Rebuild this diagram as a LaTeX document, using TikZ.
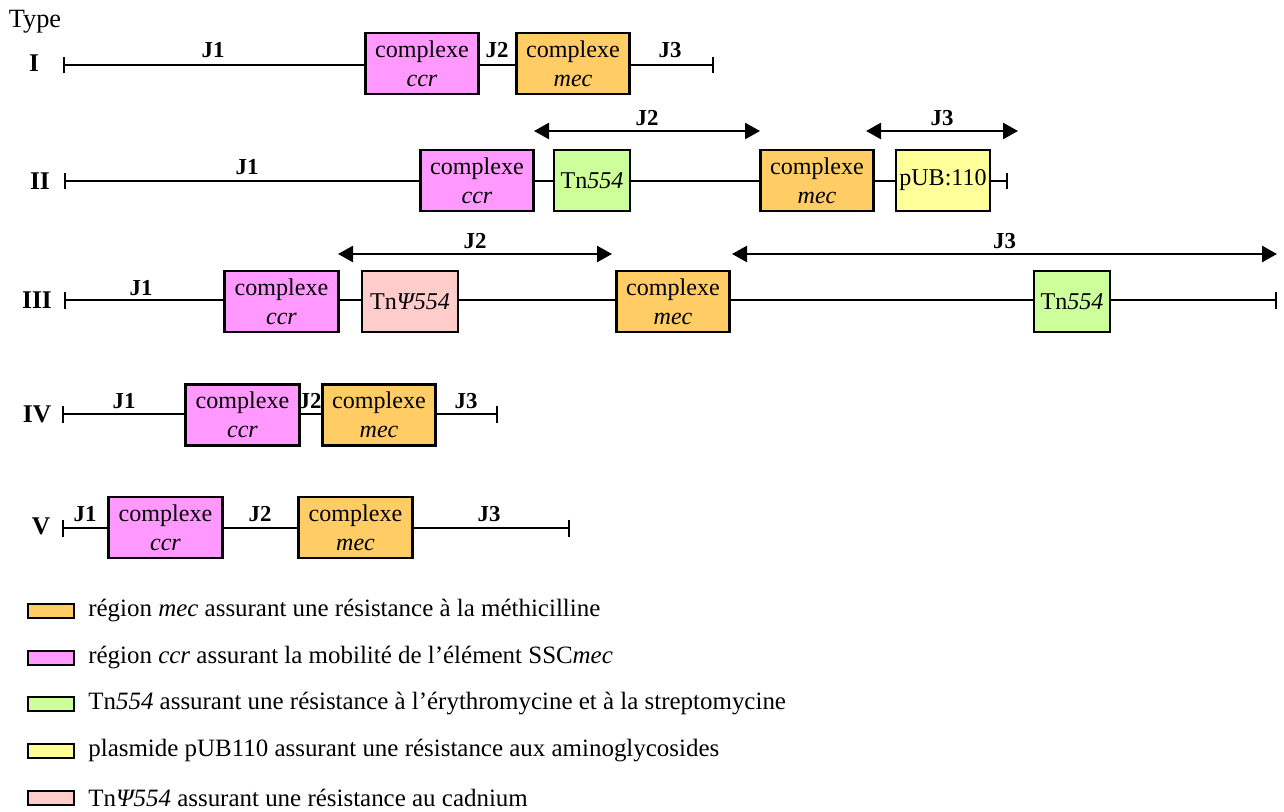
\documentclass[tikz,border=0pt]{standalone}
\usepackage{fontspec}
\setmainfont{Liberation Serif}
\usetikzlibrary{arrows.meta, positioning}
\definecolor{ccrPink}{HTML}{FF99FF}
\definecolor{mecOrange}{HTML}{FFCC66}
\definecolor{tnGreen}{HTML}{CCFF99}
\definecolor{pubYellow}{HTML}{FFFF99}
\definecolor{psiPink}{HTML}{FFCCCC}

\begin{document}
\begin{tikzpicture}[
    x=0.02cm,            % one pixel of the reference
    y=-0.02cm,           % y grows downwards
    font=\fontsize{13.7}{16.5}\selectfont,
    gene/.style={draw, line width=1.5pt, inner sep=0pt, align=center,
                 minimum width=2.27cm, minimum height=1.22cm},
    small gene/.style={gene, minimum width=1.52cm},
    backbone/.style={line width=1.4pt, {Bar[width=0.34cm]}-{Bar[width=0.34cm]}},
    span/.style={line width=1.4pt, {Triangle[length=0.3cm,width=0.32cm]}-{Triangle[length=0.3cm,width=0.32cm]}},
    jlabel/.style={font=\fontsize{13}{15}\selectfont\bfseries},
    typelabel/.style={font=\fontsize{14.5}{16}\selectfont\bfseries},
    keybox/.style={draw, line width=1.2pt, minimum width=0.92cm, minimum height=0.28cm, inner sep=0pt},
    keytext/.style={anchor=west, inner sep=0pt, font=\fontsize{14.2}{16}\selectfont}
]
    \useasboundingbox (0,0) rectangle (1284,811);

    % --- Type I ---
    \node (type) at (35,22) {\fontsize{15}{16}\selectfont Type};
    \node[typelabel] (tI) at (34,63) {I};
    \coordinate (s1) at (63,65);
    \coordinate (e1) at (714,65);
    \draw[backbone] (s1) -- (e1);
    \node[gene, fill=ccrPink] (ccr1) at (422,63.5) {complexe\\\textit{ccr}};
    \node[gene, fill=mecOrange] (mec1) at (573,63.5) {complexe\\\textit{mec}};
    \node[jlabel] (j11) at (213,50) {J1};
    \node[jlabel] (j21) at (497,50) {J2};
    \node[jlabel] (j31) at (670,50) {J3};

    % --- Type II ---
    \node[typelabel] (tII) at (40,181) {II};
    \coordinate (s2) at (64,181);
    \coordinate (e2) at (1008,181);
    \draw[backbone] (s2) -- (e2);
    \node[gene, fill=ccrPink] (ccr2) at (477,180.5) {complexe\\\textit{ccr}};
    \node[small gene, fill=tnGreen] (tn2) at (592,180.5) {Tn\textit{554}};
    \node[gene, fill=mecOrange] (mec2) at (817,180.5) {complexe\\\textit{mec}};
    \node[gene, fill=pubYellow, minimum width=1.88cm] (pub2) at (943,180.5) {pUB:110};
    \node[jlabel] (j12) at (247,167) {J1};
    % spans of J2 and J3
    \coordinate (a2l) at (534,131);
    \coordinate (a2r) at (760,131);
    \coordinate (a3l) at (866,131);
    \coordinate (a3r) at (1018,131);
    \draw[span] (a2l) -- node[jlabel, above=-1pt] (j22) {J2} (a2r);
    \draw[span] (a3l) -- node[jlabel, above=-1pt] (j32) {J3} (a3r);

    % --- Type III ---
    \node[typelabel] (tIII) at (37,300) {III};
    \coordinate (s3) at (64,300);
    \coordinate (e3) at (1277,300);
    \draw[backbone] (s3) -- (e3);
    \node[gene, fill=ccrPink] (ccr3) at (281.5,301.5) {complexe\\\textit{ccr}};
    \node[gene, fill=psiPink, minimum width=1.92cm] (psi3) at (410,301.5) {Tn\textit{Ψ554}};
    \node[gene, fill=mecOrange] (mec3) at (673,301.5) {complexe\\\textit{mec}};
    \node[small gene, fill=tnGreen] (tn3) at (1072,301.5) {Tn\textit{554}};
    \node[jlabel] (j13) at (141,288) {J1};
    \coordinate (b2l) at (338,254);
    \coordinate (b2r) at (612,254);
    \coordinate (b3l) at (732,254);
    \coordinate (b3r) at (1277,254);
    \draw[span] (b2l) -- node[jlabel, above=-1pt] (j23) {J2} (b2r);
    \draw[span] (b3l) -- node[jlabel, above=-1pt] (j33) {J3} (b3r);

    % --- Type IV ---
    \node[typelabel] (tIV) at (37,414) {IV};
    \coordinate (s4) at (62,414);
    \coordinate (e4) at (498,414);
    \draw[backbone] (s4) -- (e4);
    \node[gene, fill=ccrPink] (ccr4) at (242.5,415) {complexe\\\textit{ccr}};
    \node[gene, fill=mecOrange] (mec4) at (379,415) {complexe\\\textit{mec}};
    \node[jlabel] (j14) at (124,401) {J1};
    \node[jlabel] (j24) at (310,401) {J2};
    \node[jlabel] (j34) at (466,401) {J3};

    % --- Type V ---
    \node[typelabel] (tV) at (41,526) {V};
    \coordinate (s5) at (62,528);
    \coordinate (e5) at (570,528);
    \draw[backbone] (s5) -- (e5);
    \node[gene, fill=ccrPink] (ccr5) at (165.5,527.5) {complexe\\\textit{ccr}};
    \node[gene, fill=mecOrange] (mec5) at (355.5,527.5) {complexe\\\textit{mec}};
    \node[jlabel] (j15) at (85,514) {J1};
    \node[jlabel] (j25) at (260,514) {J2};
    \node[jlabel] (j35) at (489,514) {J3};

    % --- Legend ---
    \node[keybox, fill=mecOrange] (kmec) at (51,611) {};
    \node[keytext] (tmec) at (88,611) {région \textit{mec} assurant une résistance à la méthicilline};
    \node[keybox, fill=ccrPink] (kccr) at (51,658) {};
    \node[keytext] (tccr) at (88,658) {région \textit{ccr} assurant la mobilité de l’élément SSC\textit{mec}};
    \node[keybox, fill=tnGreen] (ktn) at (51,704) {};
    \node[keytext] (ttn) at (88,704) {Tn\textit{554} assurant une résistance à l’érythromycine et à la streptomycine};
    \node[keybox, fill=pubYellow] (kpub) at (51,751) {};
    \node[keytext] (tpub) at (88,751) {plasmide pUB110 assurant une résistance aux aminoglycosides};
    \node[keybox, fill=psiPink] (kpsi) at (51,798) {};
    \node[keytext] (tpsi) at (88,798) {Tn\textit{Ψ554} assurant une résistance au cadnium};
\end{tikzpicture}
\end{document}
